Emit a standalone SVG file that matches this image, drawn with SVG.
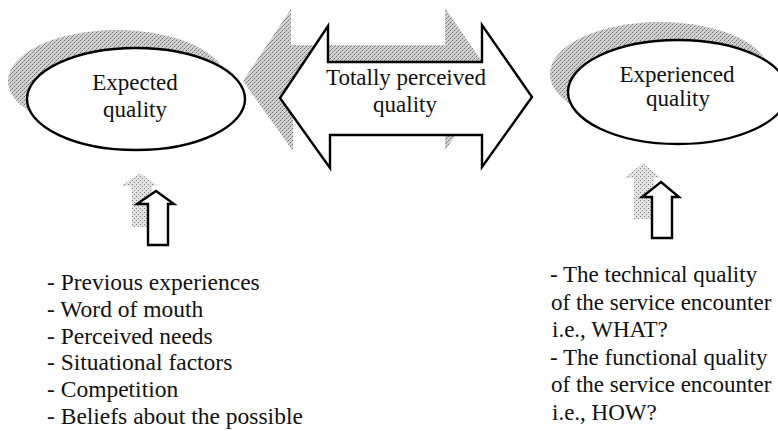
<svg xmlns="http://www.w3.org/2000/svg" width="778" height="431" viewBox="0 0 778 431">
<defs>
<pattern id="stip" width="4" height="4" patternUnits="userSpaceOnUse">
<rect width="4" height="4" fill="#d2d2d2"/>
<rect x="0" y="0" width="1" height="1" fill="#6e6e6e"/>
<rect x="2" y="2" width="1" height="1" fill="#6e6e6e"/>
<rect x="3" y="1" width="1" height="1" fill="#9a9a9a"/>
<rect x="1" y="3" width="1" height="1" fill="#9a9a9a"/>
</pattern>
<pattern id="stip2" width="4" height="4" patternUnits="userSpaceOnUse">
<rect width="4" height="4" fill="#e2e2e2"/>
<rect x="0" y="0" width="1" height="1" fill="#7a7a7a"/>
<rect x="2" y="2" width="1" height="1" fill="#8a8a8a"/>
</pattern>
</defs>
<style>
.shadow{fill:url(#stip);stroke:none}
.shadow2{fill:url(#stip2);stroke:none}
.shape{fill:#fff;stroke:#000;stroke-width:2.4;stroke-linejoin:miter}
.lbl{font-family:"Liberation Serif","Times New Roman",serif;font-size:23px;fill:#111}
.big{font-size:23.5px}
.c{text-anchor:middle}
</style>
<rect width="778" height="431" fill="#fff"/>

<g id="shadows">
<ellipse class="shadow" cx="117" cy="81" rx="109" ry="51"/>
<polygon class="shadow" points="243,81 291,9 291,45 445,45 445,8 495,80 445,150 445,118 293,118 293,151"/>
<ellipse class="shadow" cx="660" cy="74" rx="110" ry="52"/>
</g>

<g id="expected">
<ellipse class="shape" cx="136" cy="99" rx="109" ry="51"/>
<text class="lbl c" x="135" y="90">Expected</text>
<text class="lbl c" x="135" y="117">quality</text>
</g>

<g id="total">
<polygon class="shape" points="280,98 328,26 328,62 482,62 482,25 532,97 482,167 482,135 330,135 330,168"/>
<text class="lbl c" x="406" y="85">Totally perceived</text>
<text class="lbl c" x="405" y="112">quality</text>
</g>

<g id="experienced">
<ellipse class="shape" cx="678" cy="92" rx="110" ry="52"/>
<text class="lbl c" x="677" y="82">Experienced</text>
<text class="lbl c" x="678" y="106">quality</text>
</g>

<g id="connectors">
<polygon class="shadow2" points="140,173 158,186 152,186 152,227 132,227 132,186 121,186"/>
<polygon class="shape" points="156,191 174,204 168,204 168,245 148,245 148,204 137,204"/>
<polygon class="shadow2" points="643,163 661,178 654,178 654,219 634,219 634,178 624,178"/>
<polygon class="shape" points="661,182 679,197 672,197 672,238 652,238 652,197 642,197"/>
</g>

<g id="expected-factors">
<text class="lbl big" x="47" y="290">- Previous experiences</text>
<text class="lbl big" x="47" y="317">- Word of mouth</text>
<text class="lbl big" x="47" y="344">- Perceived needs</text>
<text class="lbl big" x="47" y="370">- Situational factors</text>
<text class="lbl big" x="47" y="397">- Competition</text>
<text class="lbl big" x="47" y="424">- Beliefs about the possible</text>
</g>

<g id="experienced-factors">
<text class="lbl" x="550" y="282">- The technical quality</text>
<text class="lbl" x="551" y="310">of the service encounter</text>
<text class="lbl" x="552" y="337">i.e., WHAT?</text>
<text class="lbl" x="550" y="365">- The functional quality</text>
<text class="lbl" x="551" y="392">of the service encounter</text>
<text class="lbl" x="552" y="420">i.e., HOW?</text>
</g>
</svg>
